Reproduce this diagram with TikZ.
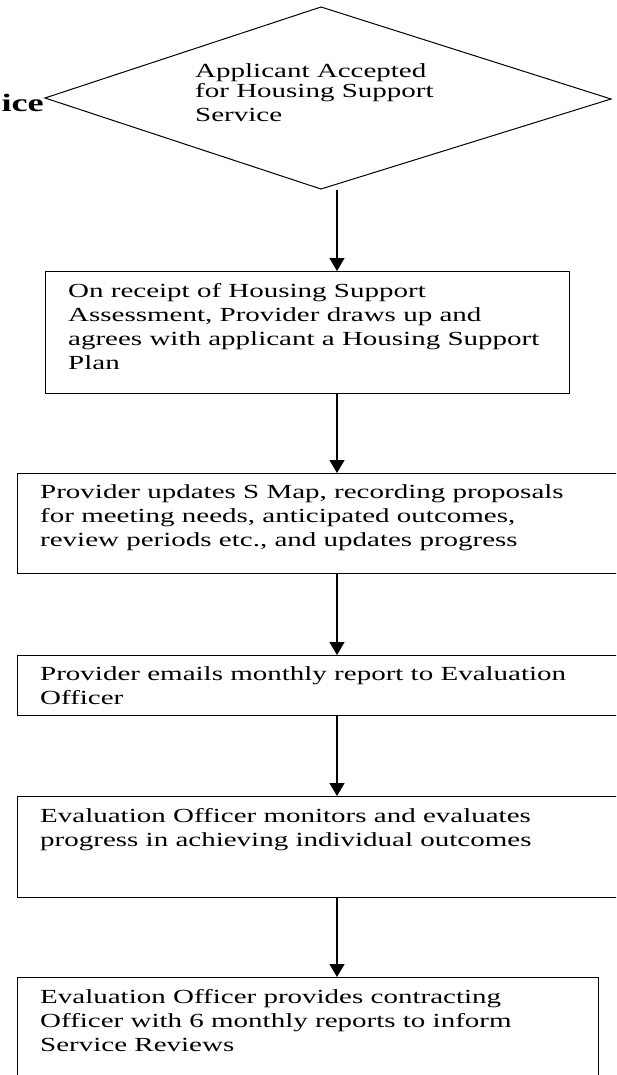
\documentclass[tikz,border=0pt]{standalone}
\usepackage{fontspec}
\setmainfont[FakeStretch=1.45]{Liberation Serif}
\usetikzlibrary{arrows.meta}
\newcommand{\fst}{\rule{0pt}{15pt}}
\begin{document}
\begin{tikzpicture}[x=1pt,y=-1pt,
  box/.style={draw, line width=1.2pt, rectangle, inner sep=0pt, anchor=north west},
  txt/.style={anchor=north west, inner sep=0pt, align=left, font=\fontsize{20}{24}\selectfont},
  arr/.style={-{Triangle[width=15pt,length=13pt]}, line width=1.3pt},
  diam/.style={line width=1pt, line join=miter}]
\useasboundingbox (0,0) rectangle (616,1075);
\clip (0,0) rectangle (616,1075);
% decision diamond
\coordinate (dT) at (321,7);
\coordinate (dR) at (611,99);
\coordinate (dB) at (321,189);
\coordinate (dL) at (45,98);
\draw[diam] (dT) -- (dR) -- (dB) -- (dL) -- cycle;
\node[txt] (dtext) at (195,62) {\fst Applicant Accepted\\[-4pt]for Housing Support\\Service};
\node[anchor=base east, inner sep=0pt, font=\fontsize{25}{28}\selectfont\bfseries] (ice) at (44,112) {ice};
% boxes
\node[box, minimum width=524pt, minimum height=122pt] (b1) at (45,271) {};
\node[txt] (t1) at (68,282) {\fst On receipt of Housing Support\\Assessment, Provider draws up and\\agrees with applicant a Housing Support\\Plan};
\node[box, minimum width=640pt, minimum height=100pt] (b2) at (17,473) {};
\node[txt] (t2) at (40,483) {\fst Provider updates S Map, recording proposals\\for meeting needs, anticipated outcomes,\\review periods etc., and updates progress};
\node[box, minimum width=640pt, minimum height=60pt] (b3) at (17,655) {};
\node[txt] (t3) at (40,665) {\fst Provider emails monthly report to Evaluation\\Officer};
\node[box, minimum width=640pt, minimum height=101pt] (b4) at (17,796) {};
\node[txt] (t4) at (40,807) {\fst Evaluation Officer monitors and evaluates\\progress in achieving individual outcomes};
\node[box, minimum width=581pt, minimum height=140pt] (b5) at (17,977) {};
\node[txt] (t5) at (40,988) {\fst Evaluation Officer provides contracting\\Officer with 6 monthly reports to inform\\Service Reviews};
% connectors
\coordinate (a0) at (337,190);
\draw[arr] (a0) -- (b1.north -| a0);
\draw[arr] (b1.south -| a0) -- (b2.north -| a0);
\draw[arr] (b2.south -| a0) -- (b3.north -| a0);
\draw[arr] (b3.south -| a0) -- (b4.north -| a0);
\draw[arr] (b4.south -| a0) -- (b5.north -| a0);
\end{tikzpicture}
\end{document}
